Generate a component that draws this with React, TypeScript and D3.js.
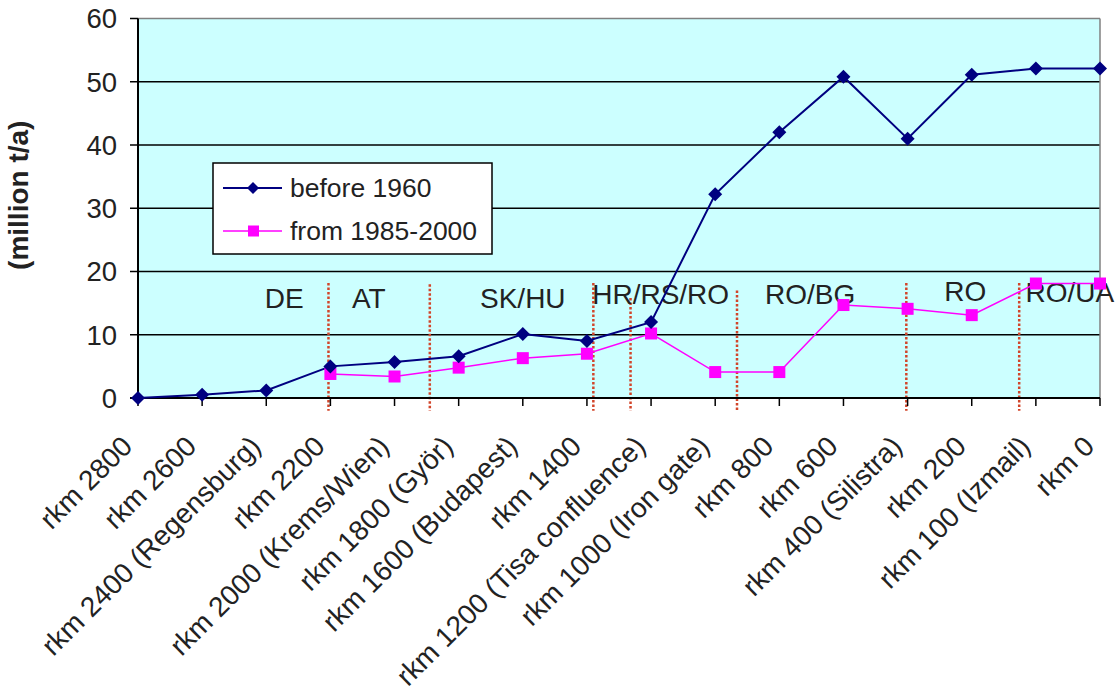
import React from "react";
import * as d3 from "d3";

const categories = [
  "rkm 2800",
  "rkm 2600",
  "rkm 2400 (Regensburg)",
  "rkm 2200",
  "rkm 2000 (Krems/Wien)",
  "rkm 1800 (Györ)",
  "rkm 1600 (Budapest)",
  "rkm 1400",
  "rkm 1200 (Tisa confluence)",
  "rkm 1000 (Iron gate)",
  "rkm 800",
  "rkm 600",
  "rkm 400 (Silistra)",
  "rkm 200",
  "rkm 100 (Izmail)",
  "rkm 0",
];

const before1960 = [0, 0.5, 1.2, 5.0, 5.7, 6.6, 10.1, 9.0, 12.0, 32.2, 42.0, 50.8, 41.0, 51.1, 52.1, 52.1];
const from1985to2000: (number | null)[] = [null, null, null, 3.8, 3.4, 4.8, 6.3, 7.0, 10.2, 4.1, 4.1, 14.7, 14.1, 13.1, 18.1, 18.1];

const seriesNames = ["before 1960", "from 1985-2000"];
const yTicks = [0, 10, 20, 30, 40, 50, 60];

// country borders, in category-index units, with their top value
const borderPositions = [2.97, 4.55, 7.1, 7.68, 9.34, 11.98, 13.74];
const borderTops = [18.2, 18, 18.2, 15.8, 17, 18.2, 18.2];

// country labels, centered at category-index position, baseline at value
const regionNames = ["DE", "AT", "SK/HU", "HR/RS/RO", "RO/BG", "RO", "RO/UA"];
const regionPositions = [2.28, 3.6, 6.0, 8.15, 10.48, 12.9, 14.53];
const regionBaselines = [14.3, 14.3, 14.3, 14.9, 14.9, 15.4, 15.1];

const W = 1116;
const H = 697;
const left = 138;
const right = 1100;
const top = 18.5;
const bottom = 398;
const FONT = "'Liberation Sans', Arial, sans-serif";
const NAVY = "#000080";
const MAGENTA = "#FF00FF";
const BORDER = "#d2452a";

export default function App() {
  const x = d3
    .scalePoint<number>()
    .domain(categories.map((_, i) => i))
    .range([left, right])
    .padding(0);
  const xi = d3.scaleLinear().domain([0, categories.length - 1]).range([left, right]);
  const y = d3.scaleLinear().domain([0, 60]).range([bottom, top]);

  const line1 = d3
    .line<number>()
    .x((_, i) => x(i)!)
    .y((d) => y(d));
  const line2 = d3
    .line<number | null>()
    .defined((d) => d != null)
    .x((_, i) => x(i)!)
    .y((d) => y(d as number));

  const diamond = (cx: number, cy: number, r: number) =>
    `M${cx},${cy - r}L${cx + r},${cy}L${cx},${cy + r}L${cx - r},${cy}Z`;

  const legendX = 213;
  const legendY = 163;
  const legendW = 279;
  const legendH = 91;
  const rows = [legendY + 25, legendY + 68];

  return (
    <svg
      width={W}
      height={H}
      style={{ position: "absolute", left: 0, top: 0, background: "#fff" }}
      fontFamily={FONT}
    >
      {/* plot background */}
      <rect x={left} y={top} width={right - left} height={bottom - top} fill="#CCFFFF" />

      {/* gridlines */}
      {yTicks
        .filter((t) => t > 0 && t < 60)
        .map((t) => (
          <line key={t} x1={left} x2={right} y1={y(t)} y2={y(t)} stroke="#000" strokeWidth={1.5} />
        ))}
      {/* top and right border */}
      <line x1={left} x2={right} y1={y(60)} y2={y(60)} stroke="#808080" strokeWidth={1.5} />
      <line x1={right} x2={right} y1={y(60)} y2={bottom} stroke="#808080" strokeWidth={1.5} />

      {/* legend box */}
      <rect x={legendX} y={legendY} width={legendW} height={legendH} fill="#fff" stroke="#000" strokeWidth={1.5} />
      {seriesNames.map((name, i) => (
        <g key={name}>
          <line
            x1={legendX + 10}
            x2={legendX + 69}
            y1={rows[i]}
            y2={rows[i]}
            stroke={i === 0 ? NAVY : MAGENTA}
            strokeWidth={i === 0 ? 2 : 1.5}
          />
          {i === 0 ? (
            <path d={diamond(legendX + 40, rows[i], 6)} fill={NAVY} />
          ) : (
            <rect x={legendX + 35} y={rows[i] - 5.5} width={11} height={11} fill={MAGENTA} />
          )}
          <text x={legendX + 77} y={rows[i]} dy="0.35em" fontSize={26.5} fill="#222">
            {name}
          </text>
        </g>
      ))}

      {/* country border lines */}
      {borderPositions.map((p, i) => (
        <line
          key={i}
          x1={xi(p)}
          x2={xi(p)}
          y1={y(borderTops[i])}
          y2={y(-2)}
          stroke={BORDER}
          strokeWidth={2.5}
          strokeDasharray="2.5,2"
        />
      ))}

      {/* region labels */}
      {regionNames.map((n, i) => (
        <text
          key={n}
          x={xi(regionPositions[i])}
          y={y(regionBaselines[i])}
          textAnchor="middle"
          fontSize={28}
          fill="#222"
        >
          {n}
        </text>
      ))}

      {/* axes */}
      <line x1={left} x2={left} y1={y(60)} y2={bottom} stroke="#000" strokeWidth={2} />
      <line x1={left - 8} x2={right} y1={bottom} y2={bottom} stroke="#000" strokeWidth={2} />
      {yTicks.map((t) => (
        <g key={t}>
          <line x1={left - 8} x2={left} y1={y(t)} y2={y(t)} stroke="#000" strokeWidth={1.5} />
          <text x={left - 21} y={y(t)} dy="0.36em" textAnchor="end" fontSize={27.5} fill="#222">
            {t}
          </text>
        </g>
      ))}
      {categories.map((c, i) => (
        <g key={c}>
          <line x1={x(i)} x2={x(i)} y1={bottom} y2={bottom + 8} stroke="#000" strokeWidth={1.5} />
          <text
            transform={`translate(${x(i)! - 4},${bottom + 50}) rotate(-45)`}
            textAnchor="end"
            fontSize={28}
            fill="#222"
          >
            {c}
          </text>
        </g>
      ))}

      {/* y axis title */}
      <text
        transform={`translate(28,${(top + bottom) / 2 - 13}) rotate(-90)`}
        textAnchor="middle"
        fontSize={28}
        fontWeight="bold"
        fill="#222"
      >
        (million t/a)
      </text>

      {/* series */}
      <path d={line2(from1985to2000) || ""} fill="none" stroke={MAGENTA} strokeWidth={1.5} />
      <path d={line1(before1960) || ""} fill="none" stroke={NAVY} strokeWidth={2} />
      {from1985to2000.map((v, i) =>
        v == null ? null : (
          <rect key={i} x={x(i)! - 6} y={y(v) - 6} width={12} height={12} fill={MAGENTA} />
        )
      )}
      {before1960.map((v, i) => (
        <path key={i} d={diamond(x(i)!, y(v), 7)} fill={NAVY} />
      ))}
    </svg>
  );
}
